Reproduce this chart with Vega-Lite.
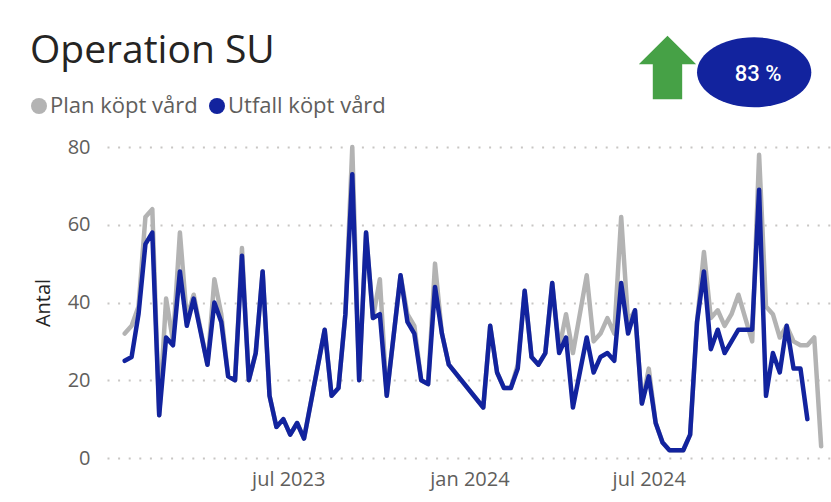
{
  "$schema": "https://vega.github.io/schema/vega-lite/v6.json",
  "width": 724,
  "height": 311,
  "autosize": {"type": "none"},
  "padding": {"left": 107, "top": 147, "right": 0, "bottom": 44},
  "background": "white",
  "title": {"text": "Operation SU", "anchor": "start", "frame": "group", "dx": -77, "offset": -66, "baseline": "alphabetic", "font": "Open Sans", "fontSize": 39, "fontWeight": "normal", "color": "#252423"},
  "config": {
    "view": {"stroke": null},
    "font": "Open Sans",
    "axis": {"domain": false, "ticks": false, "labelFont": "Open Sans", "labelColor": "#605E5C", "labelFontSize": 20}
  },
  "layer": [
    {
      "data": {"values": [
        {"d": "2023-01-16", "Plan köpt vård": 32, "Utfall köpt vård": 25},
        {"d": "2023-01-23", "Plan köpt vård": 34, "Utfall köpt vård": 26},
        {"d": "2023-01-30", "Plan köpt vård": 39, "Utfall köpt vård": 37},
        {"d": "2023-02-06", "Plan köpt vård": 62, "Utfall köpt vård": 55},
        {"d": "2023-02-13", "Plan köpt vård": 64, "Utfall köpt vård": 58},
        {"d": "2023-02-20", "Plan köpt vård": 11, "Utfall köpt vård": 11},
        {"d": "2023-02-27", "Plan köpt vård": 41, "Utfall köpt vård": 31},
        {"d": "2023-03-06", "Plan köpt vård": 30, "Utfall köpt vård": 29},
        {"d": "2023-03-13", "Plan köpt vård": 58, "Utfall köpt vård": 48},
        {"d": "2023-03-20", "Plan köpt vård": 36, "Utfall köpt vård": 34},
        {"d": "2023-03-27", "Plan köpt vård": 42, "Utfall köpt vård": 41},
        {"d": "2023-04-10", "Plan köpt vård": 24, "Utfall köpt vård": 24},
        {"d": "2023-04-17", "Plan köpt vård": 46, "Utfall köpt vård": 40},
        {"d": "2023-04-24", "Plan köpt vård": 37, "Utfall köpt vård": 35},
        {"d": "2023-05-01", "Plan köpt vård": 21, "Utfall köpt vård": 21},
        {"d": "2023-05-08", "Plan köpt vård": 20, "Utfall köpt vård": 20},
        {"d": "2023-05-15", "Plan köpt vård": 54, "Utfall köpt vård": 52},
        {"d": "2023-05-22", "Plan köpt vård": 20, "Utfall köpt vård": 20},
        {"d": "2023-05-29", "Plan köpt vård": 27, "Utfall köpt vård": 27},
        {"d": "2023-06-05", "Plan köpt vård": 48, "Utfall köpt vård": 48},
        {"d": "2023-06-12", "Plan köpt vård": 16, "Utfall köpt vård": 16},
        {"d": "2023-06-19", "Plan köpt vård": 8, "Utfall köpt vård": 8},
        {"d": "2023-06-26", "Plan köpt vård": 10, "Utfall köpt vård": 10},
        {"d": "2023-07-03", "Plan köpt vård": 6, "Utfall köpt vård": 6},
        {"d": "2023-07-10", "Plan köpt vård": 9, "Utfall köpt vård": 9},
        {"d": "2023-07-17", "Plan köpt vård": 5, "Utfall köpt vård": 5},
        {"d": "2023-08-07", "Plan köpt vård": 33, "Utfall köpt vård": 33},
        {"d": "2023-08-14", "Plan köpt vård": 16, "Utfall köpt vård": 16},
        {"d": "2023-08-21", "Plan köpt vård": 18, "Utfall köpt vård": 18},
        {"d": "2023-08-28", "Plan köpt vård": 37, "Utfall köpt vård": 37},
        {"d": "2023-09-04", "Plan köpt vård": 80, "Utfall köpt vård": 73},
        {"d": "2023-09-11", "Plan köpt vård": 20, "Utfall köpt vård": 20},
        {"d": "2023-09-18", "Plan köpt vård": 58, "Utfall köpt vård": 58},
        {"d": "2023-09-25", "Plan köpt vård": 36, "Utfall köpt vård": 36},
        {"d": "2023-10-02", "Plan köpt vård": 46, "Utfall köpt vård": 37},
        {"d": "2023-10-09", "Plan köpt vård": 16, "Utfall köpt vård": 16},
        {"d": "2023-10-23", "Plan köpt vård": 47, "Utfall köpt vård": 47},
        {"d": "2023-10-30", "Plan köpt vård": 37, "Utfall köpt vård": 35},
        {"d": "2023-11-06", "Plan köpt vård": 34, "Utfall köpt vård": 32},
        {"d": "2023-11-13", "Plan köpt vård": 20, "Utfall köpt vård": 20},
        {"d": "2023-11-20", "Plan köpt vård": 19, "Utfall köpt vård": 19},
        {"d": "2023-11-27", "Plan köpt vård": 50, "Utfall köpt vård": 44},
        {"d": "2023-12-04", "Plan köpt vård": 32, "Utfall köpt vård": 32},
        {"d": "2023-12-11", "Plan köpt vård": 24, "Utfall köpt vård": 24},
        {"d": "2024-01-15", "Plan köpt vård": 13, "Utfall köpt vård": 13},
        {"d": "2024-01-22", "Plan köpt vård": 34, "Utfall köpt vård": 34},
        {"d": "2024-01-29", "Plan köpt vård": 22, "Utfall köpt vård": 22},
        {"d": "2024-02-05", "Plan köpt vård": 18, "Utfall köpt vård": 18},
        {"d": "2024-02-12", "Plan köpt vård": 18, "Utfall köpt vård": 18},
        {"d": "2024-02-19", "Plan köpt vård": 24, "Utfall köpt vård": 23},
        {"d": "2024-02-26", "Plan köpt vård": 43, "Utfall köpt vård": 43},
        {"d": "2024-03-04", "Plan köpt vård": 26, "Utfall köpt vård": 26},
        {"d": "2024-03-11", "Plan köpt vård": 24, "Utfall köpt vård": 24},
        {"d": "2024-03-18", "Plan köpt vård": 27, "Utfall köpt vård": 27},
        {"d": "2024-03-25", "Plan köpt vård": 45, "Utfall köpt vård": 45},
        {"d": "2024-04-01", "Plan köpt vård": 28, "Utfall köpt vård": 27},
        {"d": "2024-04-08", "Plan köpt vård": 37, "Utfall köpt vård": 31},
        {"d": "2024-04-15", "Plan köpt vård": 27, "Utfall köpt vård": 13},
        {"d": "2024-04-29", "Plan köpt vård": 47, "Utfall köpt vård": 31},
        {"d": "2024-05-06", "Plan köpt vård": 30, "Utfall köpt vård": 22},
        {"d": "2024-05-13", "Plan köpt vård": 32, "Utfall köpt vård": 26},
        {"d": "2024-05-20", "Plan köpt vård": 36, "Utfall köpt vård": 27},
        {"d": "2024-05-27", "Plan köpt vård": 32, "Utfall köpt vård": 25},
        {"d": "2024-06-03", "Plan köpt vård": 62, "Utfall köpt vård": 45},
        {"d": "2024-06-10", "Plan köpt vård": 35, "Utfall köpt vård": 32},
        {"d": "2024-06-17", "Plan köpt vård": 38, "Utfall köpt vård": 38},
        {"d": "2024-06-24", "Plan köpt vård": 14, "Utfall köpt vård": 14},
        {"d": "2024-07-01", "Plan köpt vård": 23, "Utfall köpt vård": 21},
        {"d": "2024-07-08", "Plan köpt vård": 9, "Utfall köpt vård": 9},
        {"d": "2024-07-15", "Plan köpt vård": 4, "Utfall köpt vård": 4},
        {"d": "2024-07-22", "Plan köpt vård": 2, "Utfall köpt vård": 2},
        {"d": "2024-07-29", "Plan köpt vård": 2, "Utfall köpt vård": 2},
        {"d": "2024-08-05", "Plan köpt vård": 2, "Utfall köpt vård": 2},
        {"d": "2024-08-12", "Plan köpt vård": 6, "Utfall köpt vård": 6},
        {"d": "2024-08-19", "Plan köpt vård": 35, "Utfall köpt vård": 35},
        {"d": "2024-08-26", "Plan köpt vård": 53, "Utfall köpt vård": 48},
        {"d": "2024-09-02", "Plan köpt vård": 36, "Utfall köpt vård": 28},
        {"d": "2024-09-09", "Plan köpt vård": 38, "Utfall köpt vård": 33},
        {"d": "2024-09-16", "Plan köpt vård": 34, "Utfall köpt vård": 27},
        {"d": "2024-09-23", "Plan köpt vård": 37, "Utfall köpt vård": 30},
        {"d": "2024-09-30", "Plan köpt vård": 42, "Utfall köpt vård": 33},
        {"d": "2024-10-07", "Plan köpt vård": 36, "Utfall köpt vård": 33},
        {"d": "2024-10-14", "Plan köpt vård": 30, "Utfall köpt vård": 33},
        {"d": "2024-10-21", "Plan köpt vård": 78, "Utfall köpt vård": 69},
        {"d": "2024-10-28", "Plan köpt vård": 39, "Utfall köpt vård": 16},
        {"d": "2024-11-04", "Plan köpt vård": 37, "Utfall köpt vård": 27},
        {"d": "2024-11-11", "Plan köpt vård": 31, "Utfall köpt vård": 22},
        {"d": "2024-11-18", "Plan köpt vård": 34, "Utfall köpt vård": 34},
        {"d": "2024-11-25", "Plan köpt vård": 30, "Utfall köpt vård": 23},
        {"d": "2024-12-02", "Plan köpt vård": 29, "Utfall köpt vård": 23},
        {"d": "2024-12-09", "Plan köpt vård": 29, "Utfall köpt vård": 10},
        {"d": "2024-12-16", "Plan köpt vård": 31, "Utfall köpt vård": null},
        {"d": "2024-12-23", "Plan köpt vård": 3, "Utfall köpt vård": null}
      ]},
      "transform": [
        {"fold": ["Plan köpt vård", "Utfall köpt vård"], "as": ["serie", "antal"]},
        {"filter": "datum.antal != null"}
      ],
      "mark": {"type": "line", "strokeWidth": 4.5, "strokeJoin": "round", "strokeCap": "round"},
      "encoding": {
        "x": {
          "field": "d", "type": "temporal",
          "scale": {"domain": [{"year": 2022, "month": 12, "date": 29}, {"year": 2025, "month": 1, "date": 2}], "nice": false},
          "axis": {
            "title": null, "grid": false,
            "values": [{"year": 2023, "month": 7, "date": 1}, {"year": 2024, "month": 1, "date": 1}, {"year": 2024, "month": 7, "date": 1}],
            "labelExpr": "lower(timeFormat(datum.value, '%b %Y'))",
            "labelPadding": 11
          }
        },
        "y": {
          "field": "antal", "type": "quantitative",
          "scale": {"domain": [0, 80], "nice": false},
          "axis": {
            "values": [0, 20, 40, 60, 80],
            "grid": true, "gridColor": "#C8C6C4", "gridDash": [2, 8.6], "gridWidth": 2,
            "labelPadding": 17,
            "title": "Antal", "titleFont": "Open Sans", "titleFontSize": 20, "titleFontWeight": "normal", "titleColor": "#252423", "titlePadding": 14
          }
        },
        "color": {
          "field": "serie", "type": "nominal",
          "scale": {"domain": ["Plan köpt vård", "Utfall köpt vård"], "range": ["#B3B3B3", "#12239E"]},
          "legend": {
            "title": null, "orient": "none", "legendX": -79, "legendY": -52, "direction": "horizontal",
            "labelFont": "Open Sans", "labelFontSize": 22, "labelColor": "#605E5C", "labelOffset": 0,
            "symbolType": "circle", "symbolSize": 256, "columnPadding": 8, "padding": 0,
            "encode": {"symbols": {"update": {"fill": {"scale": "color", "field": "value"}, "strokeWidth": {"value": 0}, "opacity": {"value": 1}}}}
          }
        }
      }
    },
    {
      "data": {"values": [{"kpi": "83 %"}]},
      "mark": {"type": "point", "filled": true, "opacity": 1, "color": "#46A146", "size": 4045,
        "shape": "M 0 -1 L 0.902 -0.1 L 0.462 -0.1 L 0.462 1 L -0.462 1 L -0.462 -0.1 L -0.902 -0.1 Z"},
      "encoding": {
        "x": {"datum": {"year": 2024, "month": 7, "date": 20}, "type": "temporal"},
        "y": {"datum": 100.45, "type": "quantitative"}
      }
    },
    {
      "data": {"values": [{"kpi": "83 %"}]},
      "mark": {"type": "point", "filled": true, "opacity": 1, "color": "#12239E", "size": 13064,
        "shape": "M -1 0 A 1 0.6125 0 1 1 1 0 A 1 0.6125 0 1 1 -1 0 Z"},
      "encoding": {
        "x": {"datum": {"year": 2024, "month": 10, "date": 16}, "type": "temporal"},
        "y": {"datum": 99.2, "type": "quantitative"}
      }
    },
    {
      "data": {"values": [{"kpi": "83 %"}]},
      "mark": {"type": "text", "font": "Roboto", "fontSize": 22, "fontWeight": 500, "color": "white", "align": "center", "baseline": "middle"},
      "encoding": {
        "x": {"datum": {"year": 2024, "month": 10, "date": 20}, "type": "temporal"},
        "y": {"datum": 98.7, "type": "quantitative"},
        "text": {"field": "kpi", "type": "nominal"}
      }
    }
  ]
}
